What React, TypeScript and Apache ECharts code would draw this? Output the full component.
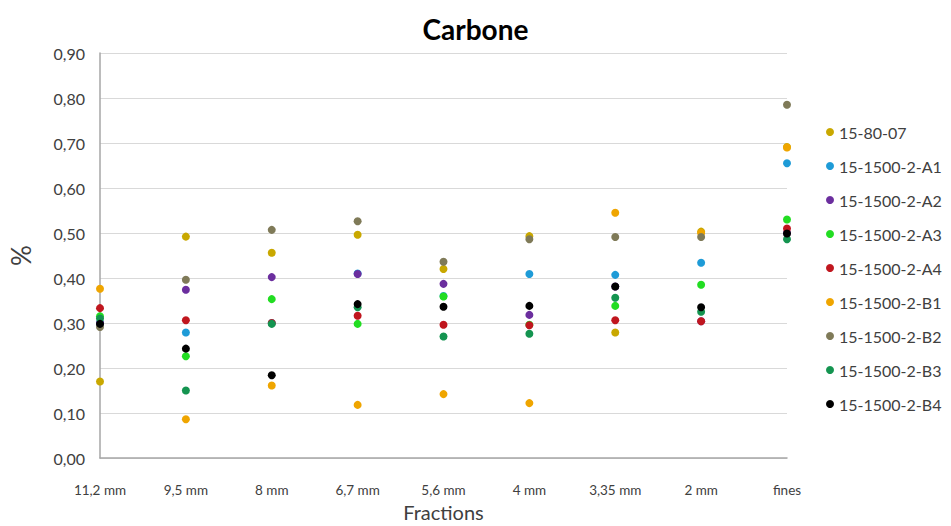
import React, { useEffect, useRef } from "react";
import * as echarts from "echarts";

const categories = ["11,2 mm", "9,5 mm", "8 mm", "6,7 mm", "5,6 mm", "4 mm", "3,35 mm", "2 mm", "fines"];
const seriesNames = [
  "15-80-07",
  "15-1500-2-A1",
  "15-1500-2-A2",
  "15-1500-2-A3",
  "15-1500-2-A4",
  "15-1500-2-B1",
  "15-1500-2-B2",
  "15-1500-2-B3",
  "15-1500-2-B4",
];
const s8007 = [0.17, 0.492, 0.456, 0.496, 0.42, 0.493, 0.279, 0.503, 0.691];
const sA1 = [0.3, 0.279, 0.3, 0.41, 0.36, 0.409, 0.407, 0.434, 0.655];
const sA2 = [0.3, 0.374, 0.402, 0.409, 0.387, 0.318, 0.381, 0.304, 0.5];
const sA3 = [0.315, 0.226, 0.353, 0.298, 0.359, 0.296, 0.338, 0.385, 0.53];
const sA4 = [0.333, 0.306, 0.3, 0.316, 0.296, 0.295, 0.306, 0.304, 0.51];
const sB1 = [0.376, 0.086, 0.161, 0.118, 0.142, 0.122, 0.545, 0.5, 0.69];
const sB2 = [0.291, 0.396, 0.507, 0.526, 0.436, 0.486, 0.491, 0.491, 0.785];
const sB3 = [0.31, 0.15, 0.298, 0.335, 0.27, 0.276, 0.356, 0.325, 0.486];
const sB4 = [0.298, 0.243, 0.184, 0.342, 0.336, 0.338, 0.381, 0.335, 0.499];
const seriesValues = [s8007, sA1, sA2, sA3, sA4, sB1, sB2, sB3, sB4];
const colors = ["#C9A800", "#1E9BD7", "#6B2E9E", "#22DD22", "#C0161E", "#EFA500", "#7F7A58", "#149450", "#000000"];

const FONT = "Lato, 'Open Sans', sans-serif";

export default function App() {
  const ref = useRef<HTMLDivElement>(null);
  useEffect(() => {
    document.body.style.margin = "0";
    const chart = echarts.init(ref.current!, null, { renderer: "svg" });
    chart.setOption({
      animation: false,
      backgroundColor: "#ffffff",
      title: {
        text: "Carbone",
        left: "center",
        top: 10,
        textStyle: { fontFamily: FONT, fontSize: 28, fontWeight: "bold", color: "#000" },
      },
      legend: {
        orient: "vertical",
        left: 821,
        top: 119,
        itemWidth: 8,
        itemHeight: 8,
        itemGap: 18,
        icon: "circle",
        data: seriesNames,
        textStyle: { fontFamily: FONT, fontSize: 16, color: "#404040", lineHeight: 16 },
      },
      grid: { left: 100, right: 164, top: 53, bottom: 68, outerBoundsMode: "none", containLabel: false },
      xAxis: {
        type: "category",
        data: categories,
        boundaryGap: false,
        name: "Fractions",
        nameLocation: "middle",
        nameGap: 44,
        nameTextStyle: { fontFamily: FONT, fontSize: 20, color: "#404040" },
        axisLine: { lineStyle: { color: "#a6a6a6", width: 1.5 } },
        axisTick: { show: false },
        axisLabel: { fontFamily: FONT, fontSize: 13.5, color: "#404040", margin: 25 },
      },
      yAxis: {
        type: "value",
        min: 0,
        max: 0.9,
        interval: 0.1,
        name: "%",
        nameLocation: "middle",
        nameGap: 66,
        nameTextStyle: { fontFamily: FONT, fontSize: 26, color: "#404040" },
        axisLine: { show: true, lineStyle: { color: "#a6a6a6", width: 1.5 } },
        axisTick: { show: false },
        splitLine: { lineStyle: { color: "#d9d9d9", width: 1 } },
        axisLabel: {
          fontFamily: FONT,
          fontSize: 16,
          color: "#404040",
          margin: 15,
          formatter: (v: number) => v.toFixed(2).replace(".", ","),
        },
      },
      series: seriesNames.map((name, i) => ({
        name,
        type: "scatter",
        symbol: "circle",
        symbolSize: 8,
        itemStyle: { color: colors[i], opacity: 1 },
        data: seriesValues[i],
      })),
    });
    return () => chart.dispose();
  }, []);
  return <div ref={ref} style={{ width: 951, height: 526 }} />;
}
